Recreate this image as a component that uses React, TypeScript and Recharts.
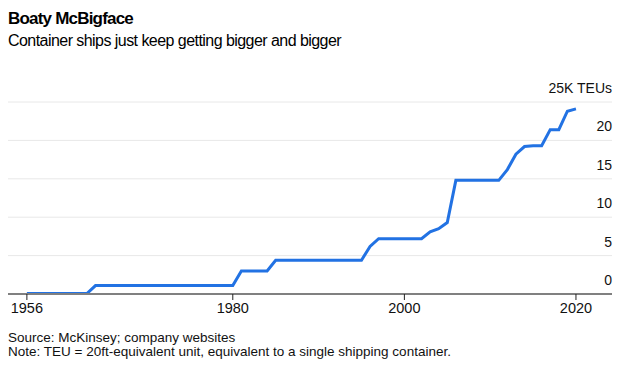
import { LineChart, Line, XAxis, YAxis, CartesianGrid } from "recharts";

const years = [1956, 1963, 1964, 1980, 1981, 1984, 1985, 1995, 1996, 1997, 2002, 2003, 2004, 2005, 2006, 2011, 2012, 2013, 2014, 2015, 2016, 2017, 2018, 2019, 2020];
const teus = [0.06, 0.06, 1.1, 1.1, 3.0, 3.0, 4.4, 4.4, 6.2, 7.2, 7.2, 8.1, 8.5, 9.3, 14.8, 14.8, 16.2, 18.2, 19.2, 19.3, 19.3, 21.4, 21.4, 23.8, 24.1];
const xTicks = [1956, 1980, 2000, 2020];
const yTicks = [0, 5, 10, 15, 20, 25];

const FONT = "'Liberation Sans', Arial, sans-serif";
const PLOT_RIGHT = 612;

const YTick = (props: any) => {
    const v = props.payload.value;
    return (
        <text x={PLOT_RIGHT} y={props.y - 9} textAnchor="end" fontSize={14} fill="#111" fontFamily={FONT}>
            {v === 25 ? "25K TEUs" : v}
        </text>
    );
};

export default function App() {
    let data: any[] = [];
    years.map(function (y, i) {
        data.push({ year: y, teu: teus[i] });
    });
    return (
        <div style={{ position: "fixed", left: 0, top: 0, width: 630, height: 365, background: "#fff", fontFamily: FONT, color: "#000" }}>
            <div style={{ position: "absolute", left: 8, top: 9, fontSize: 17, lineHeight: "20px", fontWeight: 700, letterSpacing: -0.8, whiteSpace: "nowrap" }}>
                Boaty McBigface
            </div>
            <div style={{ position: "absolute", left: 8, top: 30.5, fontSize: 16, lineHeight: "20px", letterSpacing: -0.55, whiteSpace: "nowrap" }}>
                Container ships just keep getting bigger and bigger
            </div>
            <div style={{ position: "absolute", left: 0, top: 0 }}>
                <LineChart width={630} height={330} data={data} margin={{ top: 102, right: 17, bottom: 6, left: 8 }}>
                    <CartesianGrid vertical={false} stroke="#e8e8e8" />
                    <XAxis
                        dataKey="year"
                        type="number"
                        domain={[1953.8, 2024.2]}
                        ticks={xTicks}
                        allowDataOverflow
                        height={30}
                        axisLine={{ stroke: "#808080", strokeWidth: 2 }}
                        tickLine={{ stroke: "#222" }}
                        tickSize={6}
                        tickMargin={3}
                        tick={{ fontSize: 14.5, fill: "#111", fontFamily: FONT }}
                    />
                    <YAxis
                        orientation="right"
                        width={1}
                        domain={[0, 25]}
                        ticks={yTicks}
                        axisLine={false}
                        tickLine={false}
                        tick={(p: any) => <YTick {...p} />}
                    />
                    <Line type="linear" dataKey="teu" stroke="#2272e3" strokeWidth={3} dot={false} isAnimationActive={false} />
                </LineChart>
            </div>
            <div style={{ position: "absolute", left: 8, top: 331, fontSize: 13.5, lineHeight: "14px", color: "#111", whiteSpace: "nowrap" }}>
                Source: McKinsey; company websites
            </div>
            <div style={{ position: "absolute", left: 8, top: 345, fontSize: 13.5, lineHeight: "14px", color: "#111", whiteSpace: "nowrap" }}>
                Note: TEU = 20ft-equivalent unit, equivalent to a single shipping container.
            </div>
        </div>
    );
}
